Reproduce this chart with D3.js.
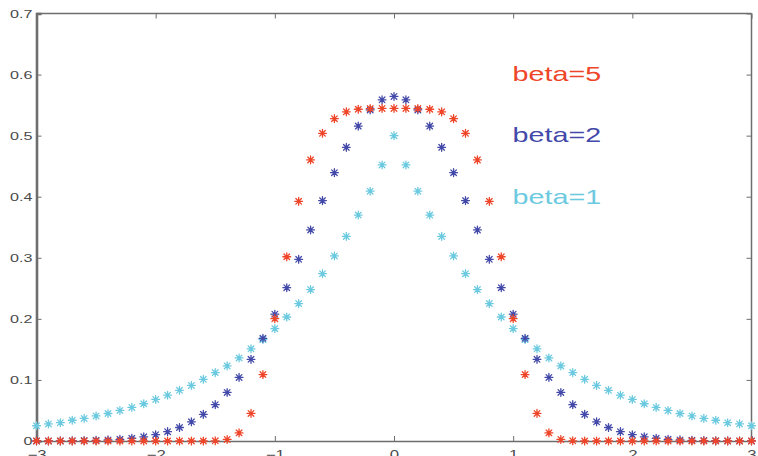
<!DOCTYPE html>
<html>
<head>
<meta charset="utf-8">
<script src="https://cdn.jsdelivr.net/npm/d3@7"></script>
<style>
  html, body { margin: 0; padding: 0; background: #fff; }
  svg { display: block; font-family: "Liberation Sans", Helvetica, Arial, sans-serif; }
</style>
</head>
<body>
<svg id="chart" width="758" height="456"></svg>
<script>
// Sample positions, -3 .. 3 in steps of 0.1
const xs = d3.range(61).map(i => +(-3 + i * 0.1).toFixed(1));

// Density values on the right half (x = 0 .. 3); the curves are symmetric
const beta1Half = [0.500,0.452,0.409,0.370,0.335,0.303,0.274,0.248,0.225,0.203,
                   0.184,0.166,0.151,0.136,0.123,0.112,0.101,0.091,0.083,0.075,
                   0.068,0.061,0.055,0.050,0.045,0.041,0.037,0.034,0.030,0.028,0.025];
const beta2Half = [0.5642,0.5586,0.5421,0.5156,0.4808,0.4394,0.3936,0.3456,0.2975,0.2510,
                   0.2076,0.1682,0.1337,0.1041,0.0795,0.0595,0.0436,0.0314,0.0221,0.0153,
                   0.0103,0.0069,0.0045,0.0028,0.0018,0.0011,0.0007,0.0004,0.0002,0.0001,0.0001];
const beta5Half = [0.5446,0.5446,0.5444,0.5432,0.5390,0.5278,0.5038,0.4603,0.3924,0.3017,
                   0.2003,0.1088,0.0452,0.0133,0.0025,0.0003,0,0,0,0,
                   0,0,0,0,0,0,0,0,0,0,0];

const xTicks = [-3, -2, -1, 0, 1, 2, 3];
const yTicks = [0, 0.1, 0.2, 0.3, 0.4, 0.5, 0.6, 0.7];

const seriesNames = ["beta=5", "beta=2", "beta=1"];
const seriesColors = ["#ee4528", "#4349a8", "#6ccae0"];
const legendY = [0.601, 0.501, 0.400];

// mirror each half into a full -3..3 series
const mirror = half => half.slice(1).reverse().concat(half);
const series = [mirror(beta5Half), mirror(beta2Half), mirror(beta1Half)];

const svg = d3.select("#chart");
const plotLeft = 36.5, plotRight = 751.5, plotTop = 13.5, plotBottom = 441;

const x = d3.scaleLinear().domain([-3, 3]).range([plotLeft, plotRight]);
const y = d3.scaleLinear().domain([0, 0.7]).range([plotBottom, plotTop]);

const axisColor = "#6e6e6e";
const labelColor = "#4a4a4a";
const stretch = 1.4;   // the lettering is drawn wide

// frame
const frame = svg.append("g");
frame.append("line").attr("x1", plotLeft).attr("x2", plotRight).attr("y1", plotTop).attr("y2", plotTop)
  .attr("stroke", axisColor).attr("stroke-width", 1.3);
frame.append("line").attr("x1", plotRight).attr("x2", plotRight).attr("y1", plotTop).attr("y2", plotBottom)
  .attr("stroke", axisColor).attr("stroke-width", 1.5);

// axes with inward ticks
const tick = 5;
const xAxisB = d3.axisBottom(x).tickValues(xTicks).tickSize(-tick)
  .tickFormat(d => d3.format("")(d).replace("-", "\u2212"));
const xAxisT = d3.axisTop(x).tickValues(xTicks).tickSize(-tick).tickFormat("");
const yAxisL = d3.axisLeft(y).tickValues(yTicks).tickSize(-tick)
  .tickFormat(d => d === 0 ? "0" : d3.format(".1f")(d));
const yAxisR = d3.axisRight(y).tickValues(yTicks).tickSize(-tick).tickFormat("");

svg.append("g").attr("transform", `translate(0,${plotTop})`).call(xAxisT)
  .call(g => g.select(".domain").remove())
  .call(g => g.selectAll(".tick line").attr("stroke", axisColor));
svg.append("g").attr("transform", `translate(${plotRight},0)`).call(yAxisR)
  .call(g => g.select(".domain").remove())
  .call(g => g.selectAll(".tick line").attr("stroke", axisColor));

svg.append("g").attr("transform", `translate(0,${plotBottom})`).call(xAxisB)
  .call(g => g.select(".domain").attr("stroke", axisColor).attr("stroke-width", 1.3))
  .call(g => g.selectAll(".tick line").attr("stroke", axisColor))
  .call(g => g.selectAll(".tick text")
    .attr("x", 0).attr("y", 0).attr("dy", null)
    .attr("dominant-baseline", "hanging")
    .attr("transform", `translate(0,9) scale(${stretch},1)`)
    .attr("fill", labelColor).attr("font-size", 12));

svg.append("g").attr("transform", `translate(${plotLeft},0)`).call(yAxisL)
  .call(g => g.select(".domain").attr("stroke", axisColor).attr("stroke-width", 2.6))
  .call(g => g.selectAll(".tick line").attr("stroke", axisColor))
  .call(g => g.selectAll(".tick text")
    .attr("x", 0)
    .attr("transform", `translate(-4,0) scale(${stretch},1)`)
    .attr("fill", labelColor).attr("font-size", 11.5));

// asterisk markers
const r = 3.9, rd = r * 0.72;
const starPath = `M${-r},0L${r},0M0,${-r}L0,${r}M${-rd},${-rd}L${rd},${rd}M${-rd},${rd}L${rd},${-rd}`;

// draw beta=1 first so the narrower curves sit on top
[2, 1, 0].forEach(si => {
  svg.append("g").selectAll("path")
    .data(xs.map((xv, i) => [xv, series[si][i]]))
    .join("path")
    .attr("transform", d => `translate(${x(d[0])},${y(d[1])})`)
    .attr("d", starPath)
    .attr("fill", "none")
    .attr("stroke", seriesColors[si])
    .attr("stroke-width", 1.3)
    .attr("stroke-linecap", "round");
});

// labels
svg.append("g").selectAll("text")
  .data(seriesNames)
  .join("text")
  .attr("transform", (d, i) => `translate(${x(0.995)},${y(legendY[i])}) scale(${stretch},1)`)
  .attr("dy", "0.35em")
  .attr("fill", (d, i) => seriesColors[i])
  .attr("font-size", 20.5)
  .text(d => d);
</script>
</body>
</html>
